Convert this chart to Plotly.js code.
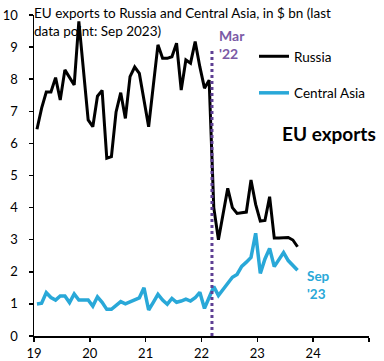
<!DOCTYPE html>
<html>
<head>
<meta charset="utf-8">
<script src="https://cdn.plot.ly/plotly-3.0.1.min.js"></script>
<style>html,body{margin:0;padding:0;background:#fff;}#chart{width:384px;height:361px;}</style>
</head>
<body>
<div id="chart"></div>
<script>
const months = ['2019-01','2019-02','2019-03','2019-04','2019-05','2019-06','2019-07','2019-08','2019-09','2019-10','2019-11','2019-12',
'2020-01','2020-02','2020-03','2020-04','2020-05','2020-06','2020-07','2020-08','2020-09','2020-10','2020-11','2020-12',
'2021-01','2021-02','2021-03','2021-04','2021-05','2021-06','2021-07','2021-08','2021-09','2021-10','2021-11','2021-12',
'2022-01','2022-02','2022-03','2022-04','2022-05','2022-06','2022-07','2022-08','2022-09','2022-10','2022-11','2022-12',
'2023-01','2023-02','2023-03','2023-04','2023-05','2023-06','2023-07','2023-08','2023-09'];
const russia = [6.44,7.1,7.6,7.6,8.05,7.35,8.29,8.05,7.82,9.8,8.3,6.73,
6.52,7.47,7.65,5.54,5.59,6.98,7.58,6.78,8.08,8.38,8.18,7.4,
6.52,7.8,9.07,8.65,8.65,8.7,9.12,7.66,8.6,8.5,9.17,8.39,
7.72,7.97,4.0,3.0,3.8,4.6,4.0,3.82,3.84,3.86,4.86,4.1,
3.58,3.6,4.34,3.05,3.05,3.05,3.07,2.99,2.78];
const centralAsia = [1.0,1.02,1.35,1.2,1.12,1.25,1.25,1.04,1.31,1.12,1.12,1.12,
0.93,1.22,1.05,0.83,0.83,0.95,1.07,1.0,1.07,1.15,1.19,1.5,
0.81,1.05,1.3,1.12,0.99,1.17,1.05,1.09,1.15,1.09,1.19,1.36,
0.86,1.2,1.54,1.26,1.45,1.68,1.83,1.92,2.17,2.3,2.45,3.2,
1.95,2.4,2.73,2.16,2.4,2.6,2.35,2.2,2.05];
const xTickVals = [19,20,21,22,23,24,25];
const xTickText = ['19','20','21','22','23','24',''];
const yTickVals = [0,1,2,3,4,5,6,7,8,9,10];
const invasionMonth = '2022-03';

function toX(s, off){ const p = s.split('-').map(Number); return (p[0]-2000) + (p[1]-1+off)/12; }
const xs = months.map(s => toX(s, 0.64));
const xMar = toX(invasionMonth, 0.25);

const FONT = 'Lato, "Liberation Sans", sans-serif';
const BLUE = '#29a8d8';
const PURPLE = '#7b5aa6';

const traces = [
  {x: xs, y: russia, type:'scatter', mode:'lines', name:'Russia', legendgroup:'a',
   line:{color:'#000000', width:3}},
  {x: xs, y: centralAsia, type:'scatter', mode:'lines', name:'Central Asia', legendgroup:'b',
   line:{color:BLUE, width:3.5}}
];

const layout = {
  width:384, height:361,
  margin:{l:34, r:15, t:15, b:25, pad:0},
  paper_bgcolor:'#ffffff', plot_bgcolor:'#ffffff',
  font:{family:FONT, size:13, color:'#000'},
  title:{text:'EU exports to Russia and Central Asia, in $ bn (last<br>data point: Sep 2023)',
    font:{family:FONT, size:13.5, color:'#000'}, x:34/384, xanchor:'left', xref:'container',
    y:1-18/361, yanchor:'top', yref:'container'},
  showlegend:true,
  legend:{x:(254-34)/335, xanchor:'left', y:(336-41)/321, yanchor:'top',
    bgcolor:'rgba(0,0,0,0)', font:{family:FONT, size:13.5, color:'#000'},
    traceorder:'grouped', tracegroupgap:16, itemwidth:30},
  xaxis:{range:[19,25], tickvals:xTickVals, ticktext:xTickText, showgrid:false, zeroline:false,
    showline:true, linecolor:'#000', linewidth:1.5, ticks:'outside', ticklen:4, tickwidth:1.5, tickcolor:'#000',
    tickfont:{family:FONT, size:13}, ticklabelstandoff:1, fixedrange:true},
  yaxis:{range:[0,10], tickvals:yTickVals, showgrid:false, zeroline:false,
    showline:true, linecolor:'#000', linewidth:1.5, ticks:'outside', ticklen:4, tickwidth:1.5, tickcolor:'#000',
    tickfont:{family:FONT, size:13}, ticklabelstandoff:8, fixedrange:true},
  shapes:[
    {type:'line', xref:'x', yref:'y', x0:xMar, x1:xMar, y0:0, y1:8.9,
     line:{color:'#5e3f94', width:3, dash:'dot'}}
  ],
  annotations:[
    {x:xMar+0.09, y:9.07, xref:'x', yref:'y', text:"<b>Mar</b><br><b>'22</b>", showarrow:false,
     xanchor:'left', yanchor:'middle', align:'left', font:{family:FONT, size:14, color:PURPLE}},
    {x:23.85, y:1.59, xref:'x', yref:'y', text:"<b>Sep</b><br><b>'23</b>", showarrow:false,
     xanchor:'left', yanchor:'middle', align:'left', font:{family:FONT, size:13.5, color:BLUE}},
    {x:23.41, y:6.32, xref:'x', yref:'y', text:'<b>EU exports</b>', showarrow:false,
     xanchor:'left', yanchor:'middle', font:{family:FONT, size:19, color:'#000'}}
  ]
};

Plotly.newPlot('chart', traces, layout, {displayModeBar:false, staticPlot:true});
</script>
</body>
</html>
